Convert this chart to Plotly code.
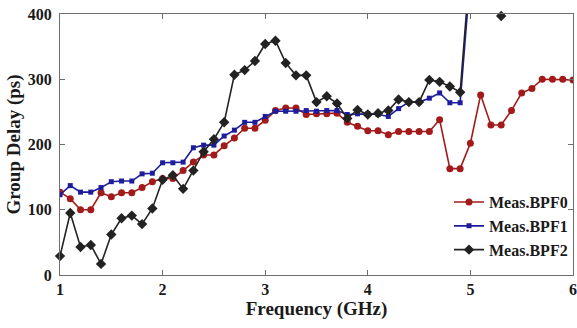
import plotly.graph_objects as go

# Measured group delay of three band-pass filters, sampled every 0.1 GHz
freq_ghz = [1.0, 1.1, 1.2, 1.3, 1.4, 1.5, 1.6, 1.7, 1.8, 1.9,
            2.0, 2.1, 2.2, 2.3, 2.4, 2.5, 2.6, 2.7, 2.8, 2.9,
            3.0, 3.1, 3.2, 3.3, 3.4, 3.5, 3.6, 3.7, 3.8, 3.9,
            4.0, 4.1, 4.2, 4.3, 4.4, 4.5, 4.6, 4.7, 4.8, 4.9,
            5.0, 5.1, 5.2, 5.3, 5.4, 5.5, 5.6, 5.7, 5.8, 5.9,
            6.0]

bpf0_ps = [127, 117, 100, 100, 126, 120, 126, 126, 134, 143,
           148, 148, 160, 173, 184, 184, 198, 210, 225, 225,
           237, 252, 256, 256, 246, 247, 247, 248, 234, 228,
           221, 221, 215, 220, 220, 220, 220, 238, 163, 163,
           202, 276, 230, 230, 252, 279, 286, 300, 300, 300,
           299]

bpf1_ps = [123, 137, 127, 127, 134, 143, 144, 144, 155, 156,
           172, 172, 173, 195, 199, 199, 213, 222, 234, 234,
           243, 251, 251, 251, 252, 251, 252, 252, 246, 247,
           247, 246, 243, 255, 265, 265, 271, 279, 264, 264,
           460]

bpf2_ps = [29, 95, 43, 46, 17, 62, 87, 91, 78, 102,
           146, 153, 132, 160, 189, 208, 234, 307, 314, 328,
           354, 359, 325, 306, 306, 265, 274, 263, 240, 253,
           246, 248, 252, 269, 265, 265, 299, 296, 289, 280,
           480, 520, 470, 397]

x_ticks = [1, 2, 3, 4, 5, 6]
y_ticks = [0, 100, 200, 300, 400]

FONT = "Liberation Serif"
AXIS_GREY = "#6e6e6e"
TEXT = "#1a1a1a"

fig = go.Figure()
fig.add_trace(go.Scatter(
    x=freq_ghz, y=bpf0_ps, name="Meas.BPF0", mode="lines+markers",
    line=dict(color="#a31a1a", width=1.6),
    marker=dict(symbol="circle", size=7, color="#a31a1a"),
))
fig.add_trace(go.Scatter(
    x=freq_ghz[:len(bpf1_ps)], y=bpf1_ps, name="Meas.BPF1", mode="lines+markers",
    line=dict(color="#1c1c9c", width=1.6),
    marker=dict(symbol="square", size=5, color="#1c1c9c"),
))
fig.add_trace(go.Scatter(
    x=freq_ghz[:len(bpf2_ps)], y=bpf2_ps, name="Meas.BPF2", mode="lines+markers",
    line=dict(color="#222222", width=1.6),
    marker=dict(symbol="diamond", size=8, color="#222222"),
    cliponaxis=False,
))

axis_common = dict(
    showline=True, linecolor=AXIS_GREY, linewidth=1.2, mirror="ticks",
    ticks="inside", ticklen=5, tickcolor=AXIS_GREY, tickwidth=1,
    showgrid=False, zeroline=False, automargin=False,
    tickfont=dict(family=FONT, size=16, color=TEXT, weight="bold"),
)

fig.update_xaxes(
    range=[1, 6], tickvals=x_ticks, ticktext=[str(v) for v in x_ticks],
    title=dict(text="Frequency (GHz)", standoff=2,
               font=dict(family=FONT, size=19, color=TEXT, weight="bold")),
    **axis_common,
)
fig.update_yaxes(
    range=[0, 400], tickvals=y_ticks, ticktext=[str(v) for v in y_ticks],
    ticklabelstandoff=4,
    title=dict(text="Group Delay (ps)", standoff=2,
               font=dict(family=FONT, size=19, color=TEXT, weight="bold")),
    **axis_common,
)

fig.update_layout(
    width=577, height=328,
    margin=dict(l=60, r=4, t=14, b=53),
    paper_bgcolor="white", plot_bgcolor="white",
    showlegend=True,
    legend=dict(
        x=1, y=0.03, xanchor="right", yanchor="bottom",
        bgcolor="rgba(255,255,255,0)", borderwidth=0,
        font=dict(family=FONT, size=16, color=TEXT, weight="bold"),
        itemwidth=30, tracegroupgap=0,
    ),
)

fig.write_html("out.html")
